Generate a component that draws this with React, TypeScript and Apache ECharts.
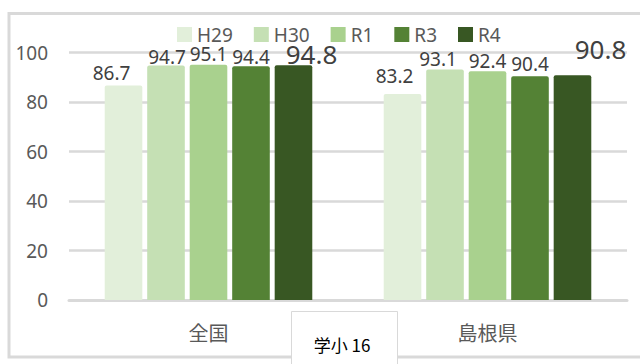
import React, { useEffect, useRef } from "react";
import * as echarts from "echarts";

const categories = ["全国", "島根県"];
const seriesNames = ["H29", "H30", "R1", "R3", "R4"];
const valuesH29 = [86.7, 83.2];
const valuesH30 = [94.7, 93.1];
const valuesR1 = [95.1, 92.4];
const valuesR3 = [94.4, 90.4];
const valuesR4 = [94.8, 90.8];
const yTicks = { min: 0, max: 100, interval: 20 };

const seriesValues = [valuesH29, valuesH30, valuesR1, valuesR3, valuesR4];
const seriesColors = ["#E2EFDA", "#C5E0B4", "#A9D18E", "#548235", "#385723"];

// per-label nudges [dx, dy] and font sizes, indexed [series][category]
const labelOffsets = [
  [[-12, -2], [-8, -8]],
  [[1, 2], [-7, 0]],
  [[0, 0], [0, 0]],
  [[0, 1], [0, -2]],
  [[18, 3], [28, -12]],
];
const labelSizes = [
  [19, 19],
  [19, 19],
  [19, 19],
  [19, 19],
  [26, 26],
];

const FONT = '"Noto Sans", "Noto Sans CJK JP", sans-serif';
const TEXT = "#595959";
const GRID = "#D9D9D9";

export default function App() {
  const ref = useRef<HTMLDivElement>(null);

  useEffect(() => {
    if (!ref.current) return;
    const chart = echarts.init(ref.current, undefined, { renderer: "svg" });

    const series = seriesNames.map((name, si) => ({
      name,
      type: "bar",
      barGap: "13%",
      barCategoryGap: "25.6%",
      itemStyle: { color: seriesColors[si], borderRadius: [2, 2, 0, 0] },
      data: seriesValues[si].map((v, ci) => ({
        value: v,
        label: {
          show: true,
          position: "top",
          distance: 2,
          offset: labelOffsets[si][ci],
          fontSize: labelSizes[si][ci],
          lineHeight: labelSizes[si][ci] - 2,
          fontFamily: FONT,
          color: "#404040",
        },
      })),
    }));

    chart.setOption({
      animation: false,
      backgroundColor: "#ffffff",
      textStyle: { fontFamily: FONT },
      grid: { left: 69, right: 13, top: 52.5, bottom: 64, containLabel: false },
      legend: {
        data: seriesNames,
        left: 177,
        top: 25,
        padding: 0,
        itemWidth: 15,
        itemHeight: 15,
        itemGap: 21,
        icon: "rect",
        textStyle: { fontSize: 19, lineHeight: 15, color: TEXT, fontFamily: FONT },
      },
      xAxis: {
        type: "category",
        data: categories,
        axisTick: { show: false },
        axisLine: { lineStyle: { color: GRID, width: 3 } },
        axisLabel: {
          fontSize: 20,
          color: TEXT,
          margin: 22,
          fontFamily: '"Noto Sans CJK JP", sans-serif',
        },
      },
      yAxis: {
        type: "value",
        min: yTicks.min,
        max: yTicks.max,
        interval: yTicks.interval,
        axisLine: { show: false },
        axisTick: { show: false },
        splitLine: { lineStyle: { color: GRID, width: 2.5 } },
        axisLabel: { fontSize: 19, color: TEXT, margin: 21, fontFamily: FONT },
      },
      graphic: [
        {
          type: "rect",
          z: -1,
          silent: true,
          shape: { x: 9, y: 13.5, width: 700, height: 343.5 },
          style: { fill: "none", stroke: GRID, lineWidth: 3 },
        },
        {
          type: "group",
          z: 100,
          children: [
            {
              type: "rect",
              shape: { x: 291.5, y: 311.5, width: 106, height: 60 },
              style: { fill: "#ffffff", stroke: GRID, lineWidth: 1 },
            },
            {
              type: "text",
              x: 342,
              y: 344,
              style: {
                text: "学小 16",
                fontSize: 17,
                fontFamily: '"Noto Sans CJK JP", sans-serif',
                fill: "#000000",
                align: "center",
                verticalAlign: "middle",
              },
            },
          ],
        },
      ],
      series,
    });

    return () => chart.dispose();
  }, []);

  return (
    <div
      ref={ref}
      style={{ position: "fixed", left: 0, top: 0, width: 640, height: 364 }}
    />
  );
}
